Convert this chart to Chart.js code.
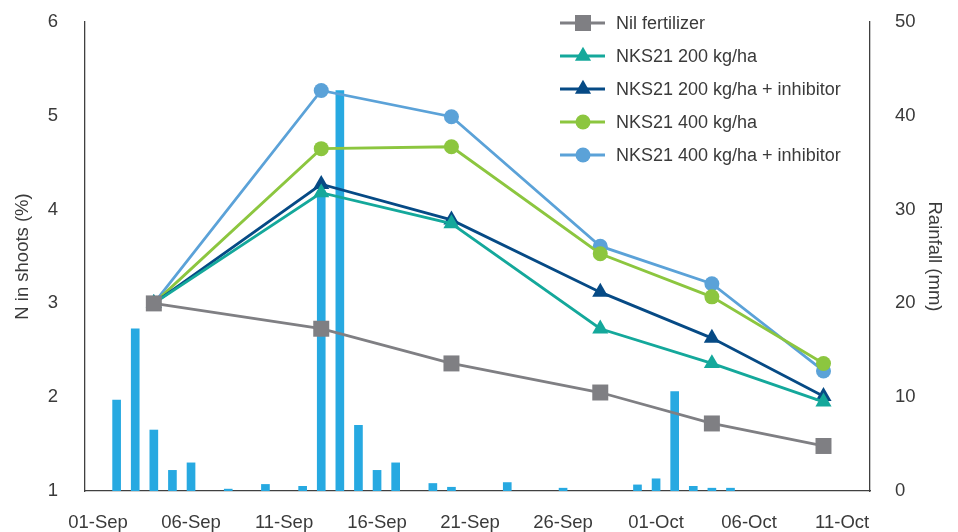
<!DOCTYPE html>
<html>
<head>
<meta charset="utf-8">
<title>N in shoots and rainfall</title>
<script src="https://cdn.jsdelivr.net/npm/chart.js@4.4.1/dist/chart.umd.min.js"></script>
<style>
  html, body { margin: 0; padding: 0; background: #fff; }
  #wrap { width: 958px; height: 532px; }
</style>
</head>
<body>
<div id="wrap"><canvas id="chart" width="958" height="532"></canvas></div>
<script>
const FONT = '"Liberation Sans", Arial, sans-serif';
const TEXT = '#3a3a3a';
const AXIS = '#404040';

// x axis: days counted from 01-Sep
const tickDays = [0, 5, 10, 15, 20, 25, 30, 35, 40];
const tickLabels = ['01-Sep', '06-Sep', '11-Sep', '16-Sep', '21-Sep', '26-Sep', '01-Oct', '06-Oct', '11-Oct'];

// shoot sampling days and N in shoots (%)
const sampleDays = [3, 12, 19, 27, 33, 39];
const nilFert = [3.0, 2.73, 2.36, 2.05, 1.72, 1.48];
const nks200 = [3.0, 4.18, 3.85, 2.73, 2.36, 1.95];
const nks200Inh = [3.0, 4.27, 3.89, 3.12, 2.63, 2.01];
const nks400 = [3.0, 4.65, 4.67, 3.53, 3.07, 2.36];
const nks400Inh = [3.0, 5.27, 4.99, 3.61, 3.21, 2.28];

// daily rainfall (mm)
const rainDays = [1, 2, 3, 4, 5, 7, 9, 11, 12, 13, 14, 15, 16, 18, 19, 22, 25, 29, 30, 31, 32, 33, 34];
const rainMm = [9.7, 17.3, 6.5, 2.2, 3.0, 0.2, 0.7, 0.5, 32, 42.7, 7.0, 2.2, 3.0, 0.8, 0.4, 0.9, 0.3, 0.65, 1.3, 10.6, 0.5, 0.3, 0.3];

const pts = (vals) => sampleDays.map((d, i) => ({ x: d, y: vals[i] }));

const lineSet = (label, vals, color, style, radius) => ({
  type: 'line',
  label,
  data: pts(vals),
  yAxisID: 'y',
  borderColor: color,
  backgroundColor: color,
  borderWidth: 2.8,
  pointStyle: style,
  pointRadius: radius,
  pointHoverRadius: radius,
  pointBorderWidth: 0,
  tension: 0,
  order: 1,
});

// fixed axis widths so the plot sits where the original does
const fixWidth = (w) => (scale) => {
  scale.width = w;
  scale.paddingTop = 0;
  scale.paddingBottom = 0;
};

// legend drawn inside the plot, top right
const legendBox = {
  id: 'legendBox',
  afterDraw(chart) {
    const ctx = chart.ctx;
    ctx.save();
    ctx.font = `18px ${FONT}`;
    ctx.textBaseline = 'middle';
    let row = 0;
    chart.data.datasets.forEach((ds) => {
      if (ds.type !== 'line') return;
      const y = 23 + row * 33;
      ctx.strokeStyle = ds.borderColor;
      ctx.lineWidth = ds.borderWidth;
      ctx.beginPath();
      ctx.moveTo(560, y);
      ctx.lineTo(605, y);
      ctx.stroke();
      ctx.fillStyle = ds.backgroundColor;
      Chart.helpers.drawPoint(ctx, { pointStyle: ds.pointStyle, radius: ds.pointRadius, rotation: 0, borderWidth: 0 }, 583, y);
      ctx.fillStyle = TEXT;
      ctx.fillText(ds.label, 616, y + 1);
      row++;
    });
    ctx.restore();
  },
};

new Chart(document.getElementById('chart'), {
  type: 'line',
  data: {
    datasets: [
      lineSet('Nil fertilizer', nilFert, '#7f7f83', 'rect', 11.3),
      lineSet('NKS21 200 kg/ha', nks200, '#14a89b', 'triangle', 9.3),
      lineSet('NKS21 200 kg/ha + inhibitor', nks200Inh, '#064a85', 'triangle', 9.3),
      lineSet('NKS21 400 kg/ha', nks400, '#8cc63f', 'circle', 7.5),
      lineSet('NKS21 400 kg/ha + inhibitor', nks400Inh, '#5ba2d8', 'circle', 7.5),
      {
        type: 'bar',
        label: 'Rainfall',
        data: rainDays.map((d, i) => ({ x: d, y: rainMm[i] })),
        yAxisID: 'y1',
        backgroundColor: '#27a9e1',
        barThickness: 8,
        order: 2,
      },
    ],
  },
  options: {
    responsive: false,
    animation: false,
    layout: { padding: { top: 22, left: 0, right: 0, bottom: 0 } },
    plugins: {
      legend: { display: false },
      tooltip: { enabled: false },
    },
    scales: {
      x: {
        type: 'linear',
        min: -0.7,
        max: 41.5,
        offset: false,
        grid: { display: false, offset: false },
        border: { display: true, color: AXIS, width: 1.3 },
        afterBuildTicks: (scale) => {
          scale.ticks = tickDays.map((v) => ({ value: v }));
        },
        afterFit: (scale) => { scale.height = 41; },
        ticks: {
          autoSkip: false,
          maxRotation: 0,
          padding: 13,
          color: TEXT,
          font: { family: FONT, size: 18.5 },
          callback: (v) => tickLabels[tickDays.indexOf(v)],
        },
      },
      y: {
        position: 'left',
        min: 1,
        max: 6,
        grid: { display: false },
        border: { display: true, color: AXIS, width: 1.3 },
        afterFit: fixWidth(85),
        ticks: { stepSize: 1, padding: 19, color: TEXT, font: { family: FONT, size: 18.5 } },
        title: {
          display: true,
          text: 'N in shoots (%)',
          color: TEXT,
          font: { family: FONT, size: 18.5 },
          padding: { top: 12, bottom: 0 },
        },
      },
      y1: {
        position: 'right',
        min: 0,
        max: 50,
        grid: { display: false },
        border: { display: true, color: AXIS, width: 1.3 },
        afterFit: fixWidth(88),
        ticks: { stepSize: 10, padding: 17, color: TEXT, font: { family: FONT, size: 18.5 } },
        title: {
          display: true,
          text: 'Rainfall (mm)',
          color: TEXT,
          font: { family: FONT, size: 18.5 },
          padding: { top: 13, bottom: 0 },
        },
      },
    },
  },
  plugins: [legendBox],
});
</script>
</body>
</html>
